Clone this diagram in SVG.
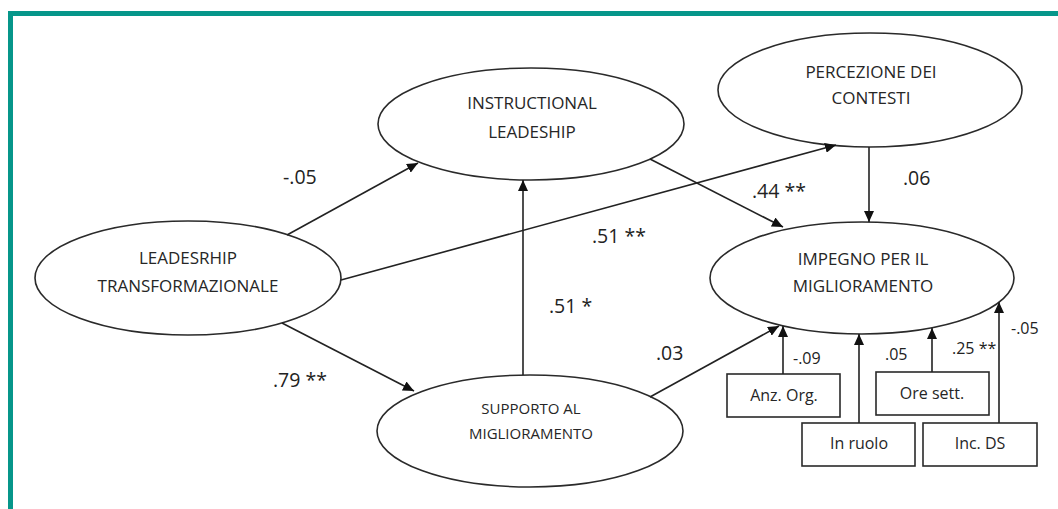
<svg xmlns="http://www.w3.org/2000/svg" width="1058" height="509" viewBox="0 0 1058 509">
<style>
.node ellipse{fill:#fff;stroke:#2a2a2a;stroke-width:1.6}
.node rect{fill:#fff;stroke:#2a2a2a;stroke-width:1.6}
text{font-family:"Open Sans","Liberation Sans",sans-serif;fill:#262626;text-anchor:middle}
.t1{font-size:17px}
.t2{font-size:15px}
.lab{font-size:19.5px;text-anchor:start;fill:#222}
.sl{font-size:16px;text-anchor:start;fill:#222}
.bx{font-size:16px}
#connectors line{stroke:#222;stroke-width:1.6;marker-end:url(#ah)}
</style>
<defs>
<marker id="ah" markerUnits="userSpaceOnUse" markerWidth="12" markerHeight="10" refX="11" refY="5" orient="auto">
<path d="M0,0 L11,5 L0,10 z" fill="#111"/>
</marker>
</defs>
<rect x="0" y="0" width="1058" height="509" fill="#fff"/>
<rect x="8" y="11" width="1050" height="5" fill="#06968a"/>
<rect x="8" y="11" width="5" height="498" fill="#06968a"/>

<g id="n-leadership" class="node">
<ellipse cx="188" cy="278" rx="153" ry="57"/>
<text class="t1" x="188" y="264">LEADESRHIP</text>
<text class="t1" x="188" y="292">TRANSFORMAZIONALE</text>
</g>
<g id="n-instructional" class="node">
<ellipse cx="531" cy="124" rx="153" ry="56"/>
<text class="t1" x="532" y="109">INSTRUCTIONAL</text>
<text class="t1" x="532" y="138">LEADESHIP</text>
</g>
<g id="n-percezione" class="node">
<ellipse cx="870" cy="90" rx="152" ry="57"/>
<text class="t1" x="871" y="78">PERCEZIONE DEI</text>
<text class="t1" x="871" y="104">CONTESTI</text>
</g>
<g id="n-impegno" class="node">
<ellipse cx="862" cy="278" rx="152" ry="56"/>
<text class="t1" x="863" y="265">IMPEGNO PER IL</text>
<text class="t1" x="863" y="292">MIGLIORAMENTO</text>
</g>
<g id="n-supporto" class="node">
<ellipse cx="530" cy="431" rx="153" ry="56"/>
<text class="t2" x="531" y="414">SUPPORTO AL</text>
<text class="t2" x="531" y="439">MIGLIORAMENTO</text>
</g>
<g id="n-anz" class="node">
<rect x="727" y="374" width="113" height="43"/>
<text class="bx" x="784" y="401">Anz. Org.</text>
</g>
<g id="n-ruolo" class="node">
<rect x="802" y="423" width="113" height="43"/>
<text class="bx" x="859" y="449">In ruolo</text>
</g>
<g id="n-ore" class="node">
<rect x="876" y="372" width="113" height="43"/>
<text class="bx" x="932" y="399">Ore sett.</text>
</g>
<g id="n-inc" class="node">
<rect x="923" y="423" width="114" height="43"/>
<text class="bx" x="980" y="449">Inc. DS</text>
</g>

<g id="connectors">
<line x1="287" y1="235" x2="418" y2="163"/>
<line x1="341" y1="280" x2="836" y2="145"/>
<line x1="282" y1="323" x2="414" y2="391"/>
<line x1="523" y1="375" x2="523" y2="180"/>
<line x1="650" y1="159" x2="783" y2="227"/>
<line x1="869" y1="147" x2="869" y2="222"/>
<line x1="650" y1="397" x2="779" y2="326"/>
<line x1="783" y1="374" x2="783" y2="326"/>
<line x1="859" y1="423" x2="859" y2="334"/>
<line x1="932" y1="372" x2="932" y2="328"/>
<line x1="999" y1="423" x2="999" y2="302"/>
</g>

<g id="labels">
<text class="lab" x="283" y="184">-.05</text>
<text class="lab" x="592" y="243">.51 **</text>
<text class="lab" x="549" y="313">.51 *</text>
<text class="lab" x="752" y="198">.44 **</text>
<text class="lab" x="903" y="185">.06</text>
<text class="lab" x="273" y="387">.79 **</text>
<text class="lab" x="656" y="360">.03</text>
<text class="sl" x="793" y="364">-.09</text>
<text class="sl" x="885" y="360">.05</text>
<text class="sl" x="952" y="354">.25 **</text>
<text class="sl" x="1011" y="334">-.05</text>
</g>
</svg>
